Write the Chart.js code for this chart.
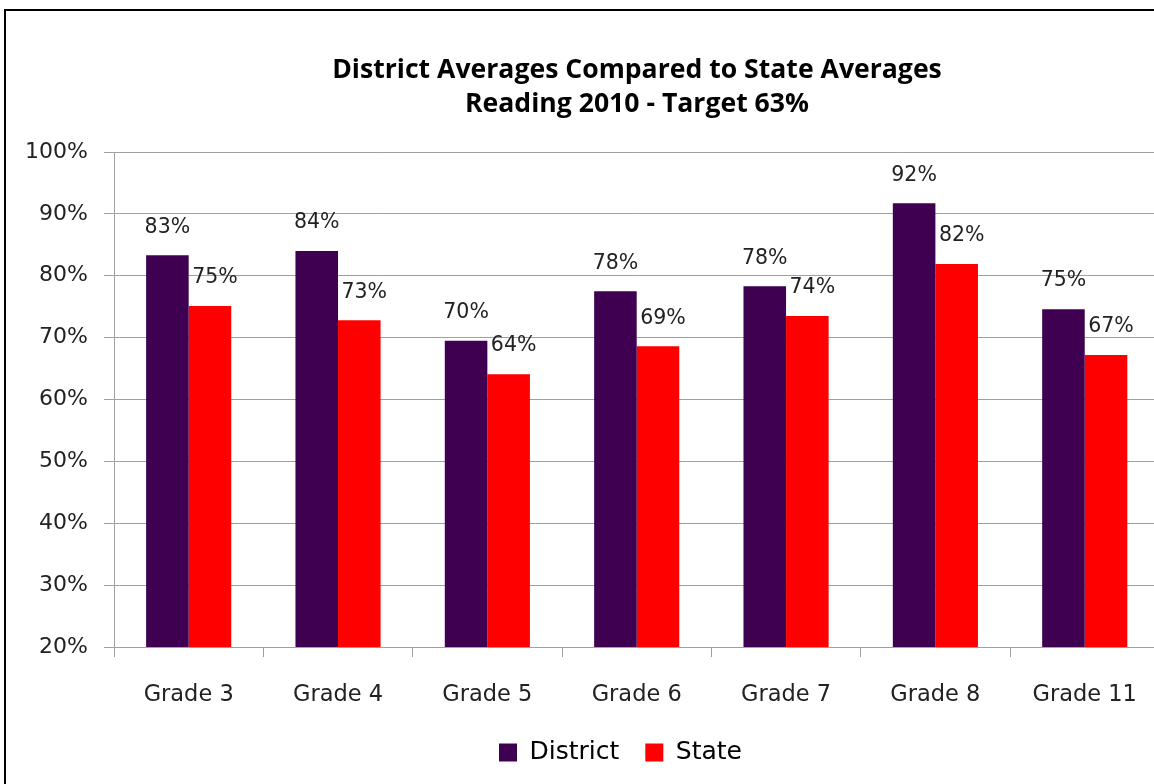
<!DOCTYPE html>
<html><head><meta charset="utf-8">
<script src="https://cdn.jsdelivr.net/npm/chart.js@4"></script>
<style>html,body{margin:0;padding:0;background:#fff;overflow:hidden;}canvas{display:block}</style>
</head><body>
<canvas id="c" width="1162" height="784"></canvas>
<script>
const categories = ['Grade 3','Grade 4','Grade 5','Grade 6','Grade 7','Grade 8','Grade 11'];
const districtValues = [83.3, 84.0, 69.5, 77.5, 78.3, 91.7, 74.6];
const stateValues = [75.1, 72.8, 64.1, 68.6, 73.5, 81.9, 67.2];
const seriesNames = ['District', 'State'];
const yMin = 20, yMax = 100, yStep = 10;
const titleLines = ['District Averages Compared to State Averages', 'Reading 2010 - Target 63%'];

const FONT = '"DejaVu Sans", sans-serif';

const framePlugin = {
  id: 'frame',
  afterLayout(chart) {
    const l = chart.legend;
    if (l) { l.left += 40; l.right += 40; }
  },
  beforeDraw(chart) {
    const ctx = chart.ctx;
    ctx.save();
    ctx.fillStyle = '#fff';
    ctx.fillRect(0, 0, chart.width, chart.height);
    ctx.restore();
  },
  afterDraw(chart) {
    const ctx = chart.ctx;
    ctx.save();
    ctx.strokeStyle = '#000';
    ctx.lineWidth = 2;
    ctx.strokeRect(5, 10, chart.width + 20, chart.height + 20);
    ctx.fillStyle = '#000';
    ctx.font = 'bold 26.6px "Open Sans", sans-serif';
    ctx.textAlign = 'center';
    ctx.textBaseline = 'middle';
    const cx = 637;
    ctx.fillText(titleLines[0], cx, 70);
    ctx.fillText(titleLines[1], cx, 104);
    ctx.restore();
  }
};

const labelPlugin = {
  id: 'barLabels',
  afterDatasetsDraw(chart) {
    const ctx = chart.ctx;
    ctx.save();
    ctx.font = '20.5px ' + FONT;
    ctx.fillStyle = '#222';
    ctx.textAlign = 'center';
    ctx.textBaseline = 'middle';
    chart.data.datasets.forEach((ds, di) => {
      const meta = chart.getDatasetMeta(di);
      meta.data.forEach((bar, i) => {
        const v = ds.data[i];
        ctx.fillText(Math.round(v) + '%', bar.x + (di === 1 ? 5 : 0), bar.y - 28);
      });
    });
    ctx.restore();
  }
};

new Chart(document.getElementById('c'), {
  type: 'bar',
  data: {
    labels: categories,
    datasets: [
      { label: seriesNames[0], data: districtValues, backgroundColor: '#3f0052', borderWidth: 0,
        categoryPercentage: 0.57, barPercentage: 1.0 },
      { label: seriesNames[1], data: stateValues, backgroundColor: '#ff0000', borderWidth: 0,
        categoryPercentage: 0.57, barPercentage: 1.0 }
    ]
  },
  options: {
    responsive: false,
    animation: false,
    devicePixelRatio: 1,
    layout: { padding: { left: 0, right: 1, top: 152, bottom: 9 } },
    plugins: {
      title: { display: false },
      tooltip: { enabled: false },
      legend: {
        position: 'bottom',
        labels: {
          boxWidth: 18, boxHeight: 18, padding: 26, color: '#000',
          font: { family: FONT, size: 25 }
        }
      }
    },
    scales: {
      x: {
        grid: { drawOnChartArea: false, drawTicks: true, tickLength: 10, color: '#a0a0a0', offset: true },
        border: { color: '#a0a0a0', width: 1 },
        ticks: { color: '#222', padding: 25, font: { family: FONT, size: 22.5 }, maxRotation: 0 },
        afterFit(scale) { scale.height = 67; }
      },
      y: {
        min: yMin, max: yMax,
        grid: { color: '#a0a0a0', tickLength: 10 },
        border: { color: '#a0a0a0', width: 1 },
        ticks: { stepSize: yStep, color: '#222', padding: 16, font: { family: FONT, size: 22 },
          callback: v => v + '%' },
        afterFit(scale) { scale.width = 114; }
      }
    }
  },
  plugins: [framePlugin, labelPlugin]
});
</script>
</body></html>
